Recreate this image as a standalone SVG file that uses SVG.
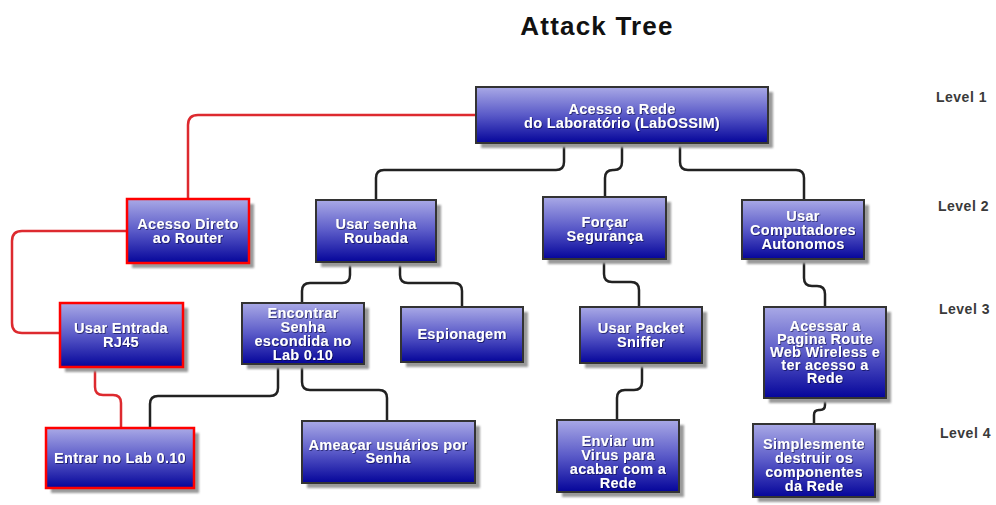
<svg xmlns="http://www.w3.org/2000/svg" width="996" height="505" viewBox="0 0 996 505">
  <defs>
    <linearGradient id="boxFill" x1="0" y1="0" x2="0" y2="1">
      <stop offset="0" stop-color="#a9a9e6"/>
      <stop offset="0.5" stop-color="#5a5ac8"/>
      <stop offset="1" stop-color="#05059a"/>
    </linearGradient>
    <filter id="soft" x="-10%" y="-10%" width="130%" height="130%">
      <feGaussianBlur stdDeviation="1.2"/>
    </filter>
    <filter id="textShade" x="-5%" y="-20%" width="115%" height="150%">
      <feDropShadow dx="0.8" dy="0.8" stdDeviation="0.6" flood-color="#000033" flood-opacity="0.7"/>
    </filter>
  </defs>
  <style>
    .shadow { fill: #9a9a9a; filter: url(#soft); }
    .box { fill: url(#boxFill); stroke: #333333; stroke-width: 2; }
    .box.red { stroke: #ff0000; stroke-width: 2.5; }
    .label { font-family: "Liberation Sans", Arial, sans-serif; font-weight: bold; font-size: 14.5px; letter-spacing: 0.3px; fill: #ffffff; text-anchor: middle; filter: url(#textShade); }
    .level { font-family: "Liberation Sans", Arial, sans-serif; font-weight: bold; font-size: 14px; letter-spacing: 0.5px; fill: #3a3a3a; }
    .title { font-family: "Liberation Sans", Arial, sans-serif; font-weight: bold; font-size: 26px; letter-spacing: 1.2px; fill: #111111; text-anchor: middle; }
    .link { fill: none; stroke: #222222; stroke-width: 2.5; }
    .link.red { stroke: #dd2a2f; }
  </style>

  <rect width="996" height="505" fill="#ffffff"/>
  <text class="title" x="597" y="35">Attack Tree</text>

  <g id="levels">
    <text class="level" x="936" y="102">Level 1</text>
    <text class="level" x="938" y="211">Level 2</text>
    <text class="level" x="939" y="314">Level 3</text>
    <text class="level" x="940" y="438">Level 4</text>
  </g>

  <g id="connectors">
    <path class="link" d="M564,143 V162 Q564,170 556,170 H384 Q376,170 376,178 V200"/>
    <path class="link" d="M622,143 V162 Q622,170 614,170 H613 Q605,170 605,178 V198"/>
    <path class="link" d="M680,143 V162 Q680,170 688,170 H796 Q804,170 804,178 V200"/>
    <path class="link red" d="M476,115 H198 Q188,115 188,125 V199"/>
    <path class="link red" d="M127,231 H22 Q12,231 12,241 V323 Q12,333 22,333 H60"/>
    <path class="link red" d="M95,367 V387 Q95,395 103,395 H113 Q121,395 121,403 V428"/>
    <path class="link" d="M350,262 V275 Q350,283 342,283 H310 Q302,283 302,291 V303"/>
    <path class="link" d="M400,262 V275 Q400,283 408,283 H454 Q462,283 462,291 V307"/>
    <path class="link" d="M604,259 V274 Q604,282 612,282 H631 Q639,282 639,290 V307"/>
    <path class="link" d="M804,259 V278 Q804,286 812,286 H817 Q825,286 825,294 V307"/>
    <path class="link" d="M642,363 V382 Q642,390 634,390 H625 Q617,390 617,398 V420"/>
    <path class="link" d="M825,398 V405 Q825,410 820,410 H819 Q814,410 814,415 V424"/>
    <path class="link" d="M278,364 V388 Q278,396 270,396 H158 Q150,396 150,404 V428"/>
    <path class="link" d="M302,364 V382 Q302,390 310,390 H379 Q387,390 387,398 V421"/>
  </g>

  <g id="root">
    <rect class="shadow" x="481" y="92" width="292" height="56"/>
    <rect class="box" x="476" y="87" width="292" height="56"/>
    <text class="label" x="622" y="114">Acesso a Rede</text>
    <text class="label" x="622" y="128">do Laboratório (LabOSSIM)</text>
  </g>

  <g id="acesso-direto">
    <rect class="shadow" x="132" y="204" width="122" height="64"/>
    <rect class="box red" x="127" y="199" width="122" height="64"/>
    <text class="label" x="188" y="229">Acesso Direto</text>
    <text class="label" x="188" y="243">ao Router</text>
  </g>

  <g id="usar-senha">
    <rect class="shadow" x="321" y="205" width="120" height="62"/>
    <rect class="box" x="316" y="200" width="120" height="62"/>
    <text class="label" x="376" y="229">Usar senha</text>
    <text class="label" x="376" y="243">Roubada</text>
  </g>

  <g id="forcar">
    <rect class="shadow" x="548" y="202" width="123" height="62"/>
    <rect class="box" x="543" y="197" width="123" height="62"/>
    <text class="label" x="605" y="227">Forçar</text>
    <text class="label" x="605" y="241">Segurança</text>
  </g>

  <g id="computadores">
    <rect class="shadow" x="747" y="205" width="122" height="59"/>
    <rect class="box" x="742" y="200" width="122" height="59"/>
    <text class="label" x="803" y="221">Usar</text>
    <text class="label" x="803" y="235">Computadores</text>
    <text class="label" x="803" y="249">Autonomos</text>
  </g>

  <g id="rj45">
    <rect class="shadow" x="65" y="308" width="123" height="64"/>
    <rect class="box red" x="60" y="303" width="123" height="64"/>
    <text class="label" x="121" y="333">Usar Entrada</text>
    <text class="label" x="121" y="347">RJ45</text>
  </g>

  <g id="encontrar">
    <rect class="shadow" x="247" y="308" width="122" height="61"/>
    <rect class="box" x="242" y="303" width="122" height="61"/>
    <text class="label" x="303" y="318">Encontrar</text>
    <text class="label" x="303" y="332">Senha</text>
    <text class="label" x="303" y="346">escondida no</text>
    <text class="label" x="303" y="360">Lab 0.10</text>
  </g>

  <g id="espionagem">
    <rect class="shadow" x="406" y="312" width="122" height="55"/>
    <rect class="box" x="401" y="307" width="122" height="55"/>
    <text class="label" x="462" y="339">Espionagem</text>
  </g>

  <g id="packet-sniffer">
    <rect class="shadow" x="585" y="312" width="122" height="56"/>
    <rect class="box" x="580" y="307" width="122" height="56"/>
    <text class="label" x="641" y="333">Usar Packet</text>
    <text class="label" x="641" y="347">Sniffer</text>
  </g>

  <g id="acessar-pagina">
    <rect class="shadow" x="769" y="312" width="122" height="91"/>
    <rect class="box" x="764" y="307" width="122" height="91"/>
    <text class="label" x="825" y="331">Acessar a</text>
    <text class="label" x="825" y="344">Pagina Route</text>
    <text class="label" x="825" y="357">Web Wireless e</text>
    <text class="label" x="825" y="370">ter acesso a</text>
    <text class="label" x="825" y="383">Rede</text>
  </g>

  <g id="entrar-lab">
    <rect class="shadow" x="51" y="433" width="148" height="60"/>
    <rect class="box red" x="46" y="428" width="148" height="60"/>
    <text class="label" x="120" y="463">Entrar no Lab 0.10</text>
  </g>

  <g id="ameacar">
    <rect class="shadow" x="307" y="426" width="173" height="62"/>
    <rect class="box" x="302" y="421" width="173" height="62"/>
    <text class="label" x="388" y="450">Ameaçar usuários por</text>
    <text class="label" x="388" y="463">Senha</text>
  </g>

  <g id="enviar-virus">
    <rect class="shadow" x="562" y="425" width="122" height="72"/>
    <rect class="box" x="557" y="420" width="122" height="72"/>
    <text class="label" x="618" y="446">Enviar um</text>
    <text class="label" x="618" y="460">Virus para</text>
    <text class="label" x="618" y="474">acabar com a</text>
    <text class="label" x="618" y="488">Rede</text>
  </g>

  <g id="destruir">
    <rect class="shadow" x="758" y="429" width="122" height="73"/>
    <rect class="box" x="753" y="424" width="122" height="73"/>
    <text class="label" x="814" y="449">Simplesmente</text>
    <text class="label" x="814" y="463">destruir os</text>
    <text class="label" x="814" y="477">componentes</text>
    <text class="label" x="814" y="491">da Rede</text>
  </g>
</svg>
